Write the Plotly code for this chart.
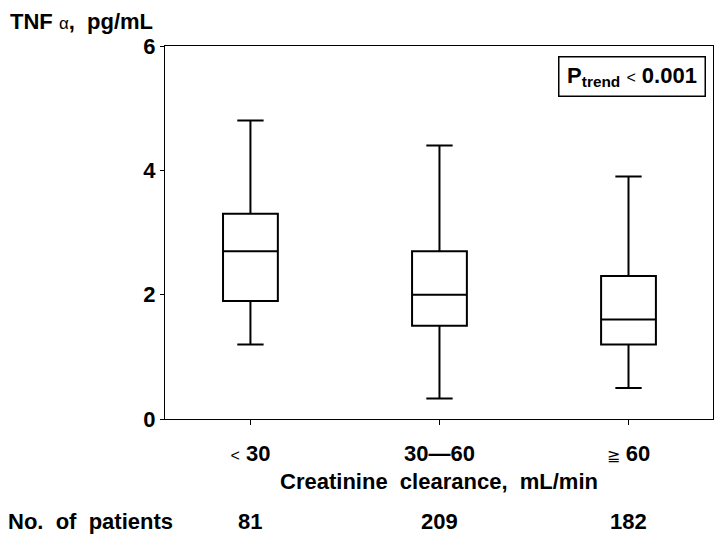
import plotly.graph_objects as go

# Data
categories = ["<30", "30-60", ">=60"]
tick_labels = [
    "<span style='font-size:16px;font-weight:normal'>&lt;</span> 30",
    "30\u201460",
    "<span style='font-size:16px;font-weight:normal'>\u2267</span> 60",
]
upper_whisker = [4.8, 4.4, 3.9]
q3_values = [3.3, 2.7, 2.3]
median_values = [2.7, 2.0, 1.6]
q1_values = [1.9, 1.5, 1.2]
lower_whisker = [1.2, 0.33, 0.5]
n_patients = ["81", "209", "182"]

FONT = "Liberation Sans, Arial, sans-serif"

fig = go.Figure()
fig.add_trace(go.Box(
    x=categories,
    q1=q1_values,
    median=median_values,
    q3=q3_values,
    lowerfence=lower_whisker,
    upperfence=upper_whisker,
    width=0.29,
    whiskerwidth=0.48,
    line=dict(color="black", width=2),
    fillcolor="rgba(0,0,0,0)",
    boxpoints=False,
    showlegend=False,
    hoverinfo="skip",
))

# page body has an 8px margin, so the figure is drawn 8px right/down
fig.update_layout(
    width=710, height=528,
    margin=dict(l=157, r=5, t=38, b=117, autoexpand=False),
    paper_bgcolor="white", plot_bgcolor="white",
    font=dict(family=FONT, size=22, color="black", weight="bold"),
    xaxis=dict(
        type="category",
        categoryorder="array", categoryarray=categories,
        range=[-0.452, 2.447],
        tickmode="array", tickvals=categories, ticktext=tick_labels,
        ticks="outside", ticklen=5, tickwidth=1, tickcolor="black",
        ticklabelstandoff=10,
        showline=True, linecolor="black", linewidth=1, mirror=True,
        showgrid=False, zeroline=False, automargin=False,
        title=dict(text="Creatinine  clearance,  mL/min", standoff=8,
                   font=dict(size=22, weight="bold")),
    ),
    yaxis=dict(
        range=[0, 6],
        tickvals=[0, 2, 4, 6],
        ticks="outside", ticklen=4, tickwidth=1, tickcolor="black",
        showline=True, linecolor="black", linewidth=1, mirror=True,
        showgrid=False, zeroline=False, automargin=False,
    ),
)

annotations = [
    dict(text="TNF <span style='font-size:17px;font-weight:normal'>\u03b1</span>,  pg/mL",
         xref="paper", yref="paper", x=(9 - 165) / 548, y=(419 - 21) / 373,
         xanchor="left", yanchor="middle", showarrow=False,
         height=26, borderpad=0,
         font=dict(size=22, weight="bold")),
    dict(text="P<sub>trend</sub> <span style='font-size:16px;font-weight:normal'>&lt;</span> 0.001",
         xref="paper", yref="paper", x=(631.5 - 165) / 548, y=(419 - 76) / 373,
         xanchor="center", yanchor="middle", showarrow=False,
         width=143, height=36, borderpad=1,
         bordercolor="black", borderwidth=1.5, bgcolor="white",
         font=dict(size=22, weight="bold")),
    dict(text="No.  of  patients",
         xref="paper", yref="paper", x=(6 - 165) / 548, y=-(521 - 419) / 373,
         xanchor="left", yanchor="middle", showarrow=False,
         font=dict(size=22, weight="bold")),
]
for cat, n in zip(categories, n_patients):
    annotations.append(dict(
        text=n, xref="x", yref="paper", x=cat, y=-(521 - 419) / 373,
        xanchor="center", yanchor="middle", showarrow=False,
        font=dict(size=22, weight="bold"),
    ))
fig.update_layout(annotations=annotations)

fig.write_html("out.html")
